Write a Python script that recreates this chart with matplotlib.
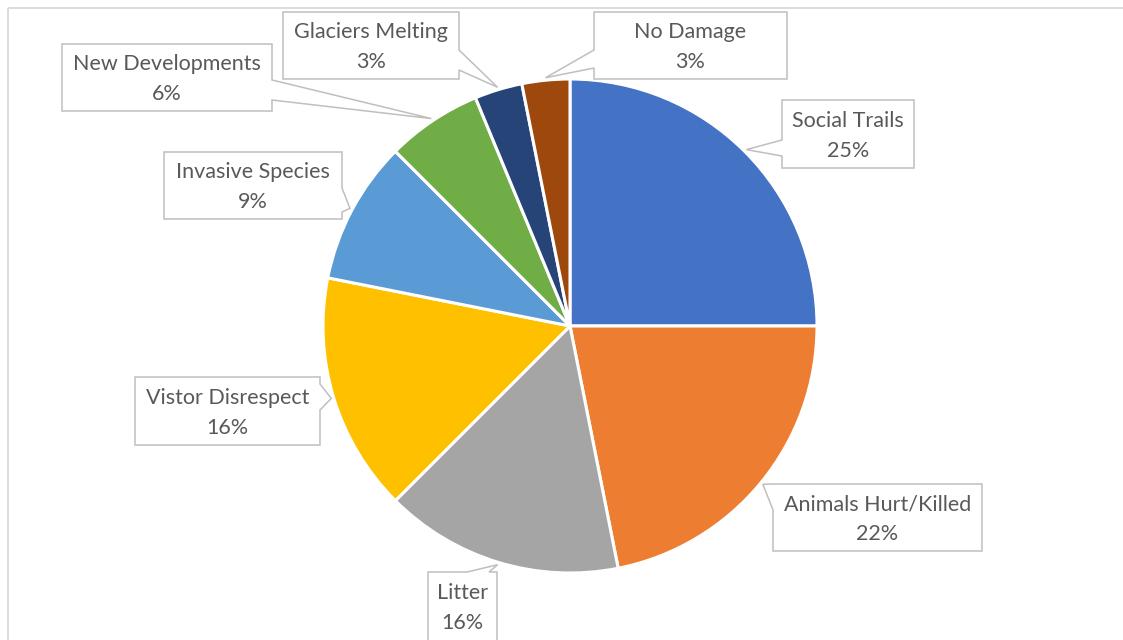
import numpy as np
import matplotlib
matplotlib.use('Agg')
import matplotlib.pyplot as plt
from matplotlib.patches import Polygon, Rectangle

# data (counts, labels as shown)
labels = ['Social Trails', 'Animals Hurt/Killed', 'Litter', 'Vistor Disrespect',
          'Invasive Species', 'New Developments', 'Glaciers Melting', 'No Damage']
values = [8, 7, 5, 5, 3, 2, 1, 1]
colors = ['#4472C4', '#ED7D31', '#A5A5A5', '#FFC000',
          '#5B9BD5', '#70AD47', '#264478', '#9E480E']

# label box layout in pixels: (x0, y0, x1, y1), side of pointer, pointer base
boxes = [
    ((782, 100, 914, 168), 'left', (140, 156)),
    ((773, 484, 982, 551), 'left', (484, 510)),
    ((428, 572, 497, 660), 'top', (467, 489)),
    ((135, 377, 320, 445), 'right', (384, 410)),
    ((164, 152, 342, 219), 'right', (188, 212)),
    ((62, 44, 272, 111), 'right', (80, 100)),
    ((283, 12, 459, 79), 'right', (50, 70)),
    ((594, 12, 787, 79), 'left', (50, 68)),
]

W, H = 1123, 640
cx, cy, R = 570, 326, 247
txt_col = '#595959'
edge_col = '#BFBFBF'

fig = plt.figure(figsize=(W / 100, H / 100), dpi=100)
ax = fig.add_axes([0, 0, 1, 1])

# y axis inverted -> startangle 270 is the top, counterclock=True draws clockwise on screen
wedges, _ = ax.pie(values, colors=colors, startangle=270, counterclock=True,
                   radius=R, center=(cx, cy),
                   wedgeprops=dict(edgecolor='white', linewidth=2.2))
ax.set_xlim(0, W)
ax.set_ylim(H, 0)
ax.set_aspect('equal')
ax.set_axis_off()

# chart area border (only top and left visible)
ax.add_patch(Rectangle((8, 8), W + 20, H + 20, facecolor='none',
                       edgecolor='#D9D9D9', linewidth=1.3, zorder=0))


def callout(box, side, base, tip):
    x0, y0, x1, y1 = box
    b0, b1 = base
    if side == 'left':
        pts = [(x0, y0), (x1, y0), (x1, y1), (x0, y1), (x0, b1), tip, (x0, b0)]
    elif side == 'right':
        pts = [(x0, y0), (x1, y0), (x1, b0), tip, (x1, b1), (x1, y1), (x0, y1)]
    else:  # top
        pts = [(x0, y0), (b0, y0), tip, (b1, y0), (x1, y0), (x1, y1), (x0, y1)]
    ax.add_patch(Polygon(pts, closed=True, facecolor='white', edgecolor=edge_col,
                         linewidth=1.1, zorder=5))


total = sum(values)
for w, lab, v, (box, side, base) in zip(wedges, labels, values, boxes):
    mid = np.deg2rad((w.theta1 + w.theta2) / 2)
    tip = (cx + R * 1.01 * np.cos(mid), cy + R * 1.01 * np.sin(mid))
    callout(box, side, base, tip)
    x0, y0, x1, y1 = box
    bx = (x0 + x1) / 2
    by = (y0 + y1) / 2 if side != 'top' else y0 + 34
    by += 2
    pct = '{:.0f}%'.format(100 * v / total)
    ax.text(bx, by - 15, lab, ha='center', va='center', fontsize=15.5,
            family='Lato', color=txt_col, zorder=6)
    ax.text(bx, by + 15, pct, ha='center', va='center', fontsize=15.5,
            family='Lato', color=txt_col, zorder=6)

fig.savefig('out.png', dpi=100)
